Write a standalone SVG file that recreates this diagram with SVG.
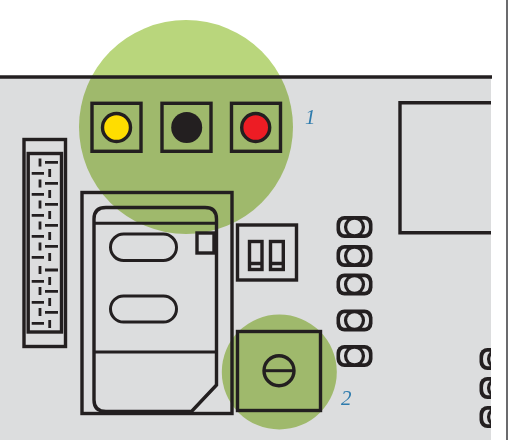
<svg xmlns="http://www.w3.org/2000/svg" width="510" height="440" viewBox="0 0 510 440">
<style>
.k{fill:none;stroke:#231f20;stroke-width:3.4}
.t{fill:none;stroke:#231f20;stroke-width:3}
.hl{fill:#b9d67c;mix-blend-mode:multiply}
.lab{font-family:"Liberation Serif",serif;font-style:italic;font-size:21px;fill:#2e7bad}
.dash{stroke:#231f20;stroke-width:2.8;fill:none}
.dk{fill:#231f20}
.gp{fill:#dcddde}
</style>
<defs>
<g id="screw"><rect width="36" height="22" rx="8" class="dk"/><path class="gp" d="M10.500 3.800H7.500Q3.500 4.500 3.500 11Q3.500 17.500 7.500 18.200H10.500A10 10 0 0 1 10.500 3.800ZM25.500 3.800H28.500Q32.500 4.500 32.500 11Q32.500 17.500 28.500 18.200H25.500A10 10 0 0 0 25.500 3.800Z"/><circle cx="18" cy="11" r="7.300" class="gp"/></g>
<clipPath id="board"><rect x="0" y="0" width="491" height="440"/></clipPath>
</defs>
<rect width="510" height="440" fill="#fff"/>
<rect x="0" y="77" width="491" height="363" fill="#dcddde"/>
<circle cx="186" cy="127" r="107" class="hl"/>
<circle cx="279.300" cy="372" r="57.500" class="hl"/>
<path d="M507 0V440" fill="none" stroke="#3a3a3c" stroke-width="1.500"/>
<g id="board-edge"><path d="M0 77H492" class="k"/></g>
<g id="led-yellow"><rect x="92" y="103.300" width="49" height="48" class="k"/><circle cx="116.500" cy="127.500" r="14" class="k" style="fill:#ffdd00"/></g>
<g id="led-black"><rect x="162" y="103.300" width="49" height="48" class="k"/><circle cx="186.700" cy="127.500" r="15.500" fill="#231f20"/></g>
<g id="led-red"><rect x="231.500" y="103.300" width="49" height="48" class="k"/><circle cx="255.700" cy="127.500" r="14" class="k" style="fill:#ed1c24"/></g>
<g id="header">
<rect x="24" y="139.500" width="41.500" height="207" class="k"/>
<rect x="28.200" y="153.500" width="33.300" height="178.500" class="k"/>
<path class="dash" d="M40 158.500v8M45 162.300h13M31.700 173.300h12.300M49.700 169v8M40 179.500v8M45 183.300h13M31.700 194.300h12.300M49.700 190v8M40 200.500v8M45 204.300h13M31.700 215.300h12.300M49.700 211v8M40 221.500v8M45 225.300h13M31.700 236.300h12.300M49.700 232v8M40 242.500v8M45 246.300h13M31.700 257.300h12.300M49.700 253v8M40 266v8M45 270h13M31.700 281.300h12.300M49.700 277v8M40 287v8M45 291.300h13M31.700 302.300h12.300M49.700 298v8M40 308v8M45 312.300h13M31.700 323.300h12.300M49.700 320v8"/>
</g>
<g id="sim">
<rect x="82" y="192.500" width="150" height="221" class="k"/>
<path d="M94 352V219Q94 207.500 106 207.500H205Q216.500 207.500 216.500 219V385L191.500 411.500H106Q94 411.500 94 400V352Z" class="k"/>
<path d="M94 223.300H216.500M94 352H216.500" class="t"/>
<rect x="110.500" y="234" width="66" height="26.500" rx="13.200" class="t"/>
<rect x="110.500" y="296" width="66" height="26" rx="13" class="t"/>
<rect x="197" y="233" width="17" height="20" class="k"/>
</g>
<g id="dip">
<rect x="237.500" y="225" width="59" height="55" class="k"/>
<rect x="249.500" y="241.500" width="12.500" height="28" class="k"/>
<rect x="270.500" y="241.500" width="12.800" height="28" class="k"/>
<path d="M249.500 263.500H262M270.500 263.500H283.300" class="k"/>
</g>
<g id="trimmer">
<rect x="237.500" y="331.500" width="83" height="79" class="k"/>
<circle cx="279" cy="370.700" r="15" class="k"/>
<path d="M264 370.700H294" class="t"/>
</g>
<g id="screws">
<use href="#screw" x="336.500" y="216"/>
<use href="#screw" x="336.500" y="245"/>
<use href="#screw" x="336.500" y="273.500"/>
<use href="#screw" x="336.500" y="309.500"/>
<use href="#screw" x="336.500" y="345"/>
</g>
<g id="screws-right" clip-path="url(#board)">
<use href="#screw" x="479.500" y="348"/>
<use href="#screw" x="479.500" y="377"/>
<use href="#screw" x="479.500" y="406"/>
</g>
<g id="block"><path d="M491 102.700H400V232.700H491" class="k"/></g>
<text x="305" y="124" class="lab">1</text>
<text x="341" y="405" class="lab">2</text>
</svg>
